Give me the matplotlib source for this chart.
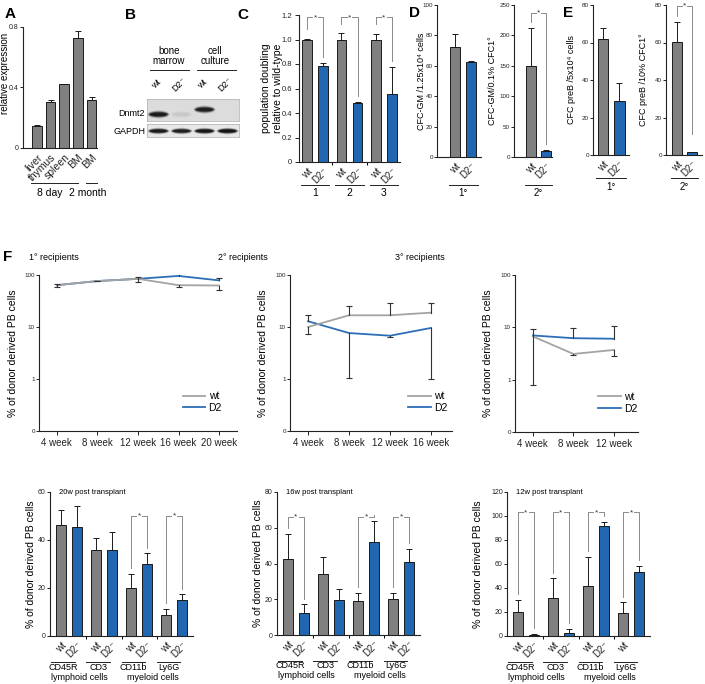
import matplotlib.pyplot as plt
import matplotlib.transforms as mtransforms
from matplotlib.lines import Line2D
from matplotlib.patches import Ellipse
from matplotlib.ticker import NullLocator
import numpy as np

plt.rcParams['font.family'] = ['Liberation Sans', 'DejaVu Sans']

W, H = 705, 684
GREY = '#808080'
BLUE = '#2166b1'
EDGE = '#1a1a1a'
GREY_L = '#a3a3a3'
BLUE_L = '#2c6fb7'
ERR = dict(ecolor=EDGE, elinewidth=0.7, capsize=2.5, capthick=0.7)

# A - Dnmt2 expression
tissues = ['liver', 'thymus', 'spleen', 'BM', 'BM']
rel_expr = [0.145, 0.307, 0.42, 0.728, 0.318]
rel_err = [0.008, 0.01, 0.003, 0.045, 0.018]

# B - western blot
lanes = ['wt', 'D2⁻', 'wt', 'D2⁻']
dnmt2_band = [0.9, 0.05, 0.85, 0.0]
gapdh_band = [0.9, 0.85, 0.95, 1.0]

# C - population doubling
expts = ['1', '2', '3']
pd_wt = [1.0, 1.0, 1.0]
pd_wt_err = [0.005, 0.05, 0.045]
pd_d2 = [0.78, 0.485, 0.555]
pd_d2_err = [0.03, 0.005, 0.22]

# D - CFC-GM
gm_1 = [72.5, 62.5]
gm_1_err = [8.5, 0.5]
gm_2 = [150, 9.5]
gm_2_err = [62, 1.5]

# E - CFC preB
preb_1 = [61.7, 28.6]
preb_1_err = [6, 9.7]
preb_2 = [60.4, 1.5]
preb_2_err = [10.6, 0.3]

# F - donor derived PB cells over time
weeks = ['4 week', '8 week', '12 week', '16 week', '20 week']
r1_wt = [63.7, 76.5, 84.4, 63.7, 62.8]
r1_wt_lo = [3.7, 1.5, 11, 6.1, 10.6]
r1_wt_hi = [3.8, 1.5, 9, 0, 0]
r1_d2 = [63.7, 76.5, 84.4, 96, 78.7]
r1_d2_lo = [0, 0, 0, 0, 0]
r1_d2_hi = [0, 0, 0, 11, 8.3]

r2_wt = [10, 16.8, 16.8, 18.9]
r2_wt_lo = [2.6, 0, 0, 0]
r2_wt_hi = [0, 9.1, 12.2, 9.8]
r2_d2 = [12.9, 7.65, 6.8, 9.6]
r2_d2_lo = [0, 6.6, 0.3, 8.6]
r2_d2_hi = [3.9, 0, 0, 0]

r3_wt = [6.7, 3.1, 3.7]
r3_wt_lo = [5.8, 0.1, 0.9]
r3_wt_hi = [0, 0, 0]
r3_d2 = [7.0, 6.2, 6.05]
r3_d2_lo = [0, 0, 0]
r3_d2_hi = [2.3, 3.4, 4.75]

# F - lineages
cells = ['CD45R', 'CD3', 'CD11b', 'Ly6G']
lineage = ['lymphoid cells', 'myeloid cells']
w20_wt = [46.2, 35.8, 19.8, 8.9]
w20_wt_err = [6.3, 5.2, 6.2, 2.5]
w20_d2 = [45.5, 35.8, 30.2, 15.2]
w20_d2_err = [8.5, 7.7, 4.2, 2.1]
w20_sig = [False, False, True, True]
w16_wt = [42.6, 34, 19, 20]
w16_wt_err = [14, 9.9, 4.4, 3.7]
w16_d2 = [12.1, 19.6, 52.3, 40.7]
w16_d2_err = [5.1, 6.2, 11.7, 7.5]
w16_sig = [True, False, True, True]
w12_wt = [19.9, 31.8, 41.8, 19]
w12_wt_err = [9.9, 16.2, 24.1, 9]
w12_d2 = [1.1, 2.8, 91.5, 53.1]
w12_d2_err = [0.4, 2.9, 3.4, 5.1]
w12_sig = [True, True, True, True]

fig = plt.figure(figsize=(W / 100, H / 100), dpi=100)


def add_ax(x0, y0, x1, y1):
    return fig.add_axes([x0 / W, 1 - y1 / H, (x1 - x0) / W, (y1 - y0) / H])


def ftext(x, y, s, **kw):
    fig.text(x / W, 1 - y / H, s, **kw)


def style(ax, ls=5):
    for s in ['top', 'right']:
        ax.spines[s].set_visible(False)
    for s in ['left', 'bottom']:
        ax.spines[s].set_linewidth(0.8)
        ax.spines[s].set_color('#222')
    ax.tick_params(length=2, width=0.7, labelsize=ls, pad=1, colors='#222')


def ylab(ax, s, xpx, fs=7.5, yfrac=0.5, **kw):
    # centre of the y label at a given pixel column
    ax.set_ylabel(s, fontsize=fs, va='center', **kw)
    pos = ax.get_position()
    ax.yaxis.set_label_coords((xpx / W - pos.x0) / pos.width, yfrac)


def below(ax, dy):
    base = mtransforms.blended_transform_factory(ax.transData, ax.transAxes)
    return mtransforms.offset_copy(base, fig=fig, x=0, y=-dy, units='dots')


def underline(ax, x0, x1, dy):
    ax.add_line(Line2D([x0, x1], [0, 0], transform=below(ax, dy), color='#222',
                       lw=0.7, clip_on=False))


def under_text(ax, x, dy, s, fs=7):
    ax.text(x, 0, s, transform=below(ax, dy), ha='center', va='center', fontsize=fs)


def sig(ax, xa, xb, top_a, top_b, y, ymax):
    gap = 0.04 * ymax
    xm = (xa + xb) / 2
    kw = dict(color='#8a8a8a', lw=0.7, clip_on=False)
    ax.plot([xa, xa, xm - 0.18], [top_a + gap, y, y], **kw)
    ax.plot([xm + 0.18, xb, xb], [y, y, top_b + gap], **kw)
    ax.text(xm, y, '*', ha='center', va='center', fontsize=6, color='#333')


def paired(ax, wt, wt_err, d2, d2_err, step, width=0.62):
    g = np.arange(len(wt)) * step
    z = np.zeros(len(wt))
    ax.bar(g, wt, width, color=GREY, edgecolor=EDGE, lw=0.7, yerr=[z, wt_err], error_kw=ERR)
    ax.bar(g + 1, d2, width, color=BLUE, edgecolor=EDGE, lw=0.7, yerr=[z, d2_err], error_kw=ERR)
    pos = np.ravel(np.column_stack([g, g + 1]))
    ax.set_xticks(pos)
    ax.set_xticklabels(['wt', 'D2⁻'] * len(wt), rotation=45, ha='right',
                       rotation_mode='anchor', fontsize=7)
    ax.tick_params(axis='x', length=0, pad=3)
    if len(wt) > 1:
        ax.set_xticks(g[:-1] + 1 + (step - 1) / 2, minor=True)
        ax.tick_params(axis='x', which='minor', length=2.5, width=0.7)
    return g


def err_marks(ax, x, y, lo, hi):
    for xi, yi, l, h in zip(x, y, lo, hi):
        for a, b in [(yi - l, l), (yi + h, h)]:
            if b > 0:
                ax.plot([xi, xi], [yi, a], color='#333', lw=0.8, zorder=4)
                ax.plot([xi], [a], marker='_', ms=5, mew=0.8, color='#333', zorder=4)


# ---------------- A ----------------
ax = add_ax(23, 27, 97, 148)
style(ax)
x = np.arange(len(tissues))
ax.bar(x, rel_expr, 0.7, color=GREY, edgecolor=EDGE, lw=0.7,
       yerr=[np.zeros(len(x)), rel_err], error_kw=ERR)
ax.set_xlim(-1.02, 4.4)
ax.set_ylim(0, 0.8)
ax.set_yticks([0, 0.4, 0.8])
ax.set_yticklabels(['0', '0.4', '0.8'])
ax.set_xticks(x)
ax.set_xticklabels(tissues, rotation=45, ha='right', rotation_mode='anchor', fontsize=7.5)
ax.tick_params(axis='x', length=0, pad=3)
ylab(ax, 'relative expression', 5.5, fs=7, yfrac=0.62)
underline(ax, -0.44, 3.0, 35)
underline(ax, 3.6, 4.4, 35)
under_text(ax, 0.95, 45, '8 day', fs=7.5)
under_text(ax, 3.7, 45, '2 month', fs=7.5)

# ---------------- B ----------------
band_y_dnmt2 = [0.3, 0.3, 0.52, 0.52]
for (y0, y1, bands, ys, bg, hs) in [
        (99, 121, dnmt2_band, band_y_dnmt2, '#dcdcdc', (0.36, 0.26, 0.17)),
        (124, 137, gapdh_band, [0.46] * 4, '#e8e8e8', (0.5, 0.36, 0.24))]:
    bx = add_ax(147, y0, 239, y1)
    bx.set_facecolor(bg)
    bx.set_xlim(-0.5, 3.5)
    bx.set_ylim(0, 1)
    bx.set_xticks([])
    bx.set_yticks([])
    for s in bx.spines.values():
        s.set_color('#b8b8b8')
        s.set_linewidth(0.6)
    for i, v in enumerate(bands):
        for w, h, a in zip((0.95, 0.86, 0.76), hs, (0.25, 0.6, 1.0)):
            bx.add_patch(Ellipse((i, ys[i]), w, h, color='#151515', alpha=v * a, lw=0))

ftext(145, 113, 'Dnmt2', ha='right', va='center', fontsize=6.5)
ftext(145, 131, 'GAPDH', ha='right', va='center', fontsize=6.5)
ftext(169, 56, 'bone\nmarrow', ha='center', va='center', fontsize=7, linespacing=1.0)
ftext(215, 56, 'cell\nculture', ha='center', va='center', fontsize=7, linespacing=1.0)
fig.add_artist(Line2D([150 / W, 189 / W], [1 - 70 / H] * 2, color='#222', lw=0.7))
fig.add_artist(Line2D([197 / W, 236 / W], [1 - 70 / H] * 2, color='#222', lw=0.7))
for i, s in enumerate(lanes):
    ftext(156 + i * 23, 84, s, ha='center', va='center', fontsize=6.5, rotation=45)

# ---------------- C ----------------
ax = add_ax(299, 15, 400, 162)
style(ax, ls=5.5)
ax.tick_params(axis='y', length=3, pad=2)
step = 2.15
g = paired(ax, pd_wt, pd_wt_err, pd_d2, pd_d2_err, step, width=0.6)
ax.set_xlim(-0.5, (len(g) - 1) * step + 1.5)
ax.set_ylim(0, 1.2)
ax.set_yticks(np.arange(0, 1.21, 0.2))
ax.set_yticklabels(['0', '0.2', '0.4', '0.6', '0.8', '1.0', '1.2'])
ylab(ax, 'population doubling\nrelative to wild-type', 272, linespacing=1.15)
for i, gi in enumerate(g):
    underline(ax, gi - 0.4, gi + 1.4, 23)
    under_text(ax, gi + 0.5, 31, expts[i], fs=7.5)
    sig(ax, gi, gi + 1, pd_wt[i] + pd_wt_err[i] + 0.03, pd_d2[i] + pd_d2_err[i], 1.18, 1.2)

# ---------------- D ----------------
ax = add_ax(437, 5, 481, 157)
style(ax, ls=4.5)
paired(ax, gm_1[:1], gm_1_err[:1], gm_1[1:], gm_1_err[1:], 1)
ax.set_xlim(-1.15, 1.6)
ax.set_ylim(0, 100)
ax.set_yticks(range(0, 101, 20))
ylab(ax, 'CFC-GM /1.25x10⁴ cells', 421, fs=6.5)
underline(ax, -0.4, 1.4, 28)
under_text(ax, 0.5, 36, '1°')

ax = add_ax(514, 5, 552, 157)
style(ax, ls=4.5)
paired(ax, gm_2[:1], gm_2_err[:1], gm_2[1:], gm_2_err[1:], 1)
ax.set_xlim(-1.13, 1.4)
ax.set_ylim(0, 250)
ax.set_yticks(range(0, 251, 50))
ylab(ax, 'CFC-GM/0.1% CFC1°', 493, fs=6.5)
underline(ax, -0.4, 1.4, 28)
under_text(ax, 0.5, 36, '2°')
sig(ax, 0, 1, gm_2[0] + gm_2_err[0], gm_2[1] + gm_2_err[1], 237, 250)

# ---------------- E ----------------
ax = add_ax(593, 5, 629, 155)
style(ax, ls=4.5)
paired(ax, preb_1[:1], preb_1_err[:1], preb_1[1:], preb_1_err[1:], 1)
ax.set_xlim(-0.6, 1.58)
ax.set_ylim(0, 80)
ax.set_yticks(range(0, 81, 20))
ylab(ax, 'CFC preB /5x10⁴ cells', 572, fs=6.5)
underline(ax, -0.4, 1.4, 23)
under_text(ax, 0.5, 32, '1°')

ax = add_ax(666, 5, 702, 155)
style(ax, ls=4.5)
paired(ax, preb_2[:1], preb_2_err[:1], preb_2[1:], preb_2_err[1:], 1)
ax.set_xlim(-0.73, 1.67)
ax.set_ylim(0, 80)
ax.set_yticks(range(0, 81, 20))
ylab(ax, 'CFC preB /10% CFC1°', 644, fs=6.5)
underline(ax, -0.4, 1.4, 23)
under_text(ax, 0.5, 32, '2°')
sig(ax, 0, 1, preb_2[0] + preb_2_err[0], 8, 79.5, 80)

# ---------------- F: time courses ----------------
line_sets = [
    ((39, 275, 237, 431), 0.44, '1° recipients', 29, 0.945, 13,
     r1_wt, r1_wt_lo, r1_wt_hi, r1_d2, r1_d2_lo, r1_d2_hi),
    ((290, 275, 452, 431), 0.51, '2° recipients', 218, 1.0, 263,
     r2_wt, r2_wt_lo, r2_wt_hi, r2_d2, r2_d2_lo, r2_d2_hi),
    ((515, 275, 638, 432), 0.59, '3° recipients', 395, 1.03, 488,
     r3_wt, r3_wt_lo, r3_wt_hi, r3_d2, r3_d2_lo, r3_d2_hi),
]
for box, rpad, title, tx, lx, yx, wt, wlo, whi, d2, dlo, dhi in line_sets:
    ax = add_ax(*box)
    style(ax, ls=4.5)
    ax.tick_params(axis='x', length=3)
    n = len(wt)
    x = np.arange(n)
    ax.set_yscale('symlog', linthresh=1, linscale=0.9)
    ax.plot(x, d2, color=BLUE_L, lw=1.3, zorder=2)
    ax.plot(x, wt, color=GREY_L, lw=1.3, zorder=3)
    err_marks(ax, x, wt, wlo, whi)
    err_marks(ax, x, d2, dlo, dhi)
    ax.set_ylim(0, 100)
    ax.set_yticks([0, 1, 10, 100])
    ax.set_yticklabels(['0', '1', '10', '100'])
    ax.yaxis.set_minor_locator(NullLocator())
    ax.set_xlim(-0.44, n - 1 + rpad)
    ax.set_xticks(x)
    ax.set_xticklabels(weeks[:n], fontsize=7)
    ax.tick_params(axis='x', pad=2)
    ylab(ax, '% of donor derived PB cells', yx)
    handles = [Line2D([], [], color=GREY_L, lw=1.3), Line2D([], [], color=BLUE_L, lw=1.3)]
    ax.legend(handles, ['wt', 'D2'], loc='lower right', bbox_to_anchor=(lx, 0.09),
              frameon=False, fontsize=7.5, handlelength=2.2, handletextpad=0.3,
              labelspacing=0.15, borderaxespad=0)
    ftext(tx, 257, title, ha='left', va='center', fontsize=6.5)

# ---------------- F: lineages ----------------
bar_sets = [
    ((50, 492, 193, 636), 60, '20w post transplant', 31,
     w20_wt, w20_wt_err, w20_d2, w20_d2_err, w20_sig, 50),
    ((277, 492, 420, 635), 80, '16w post transplant', 258,
     w16_wt, w16_wt_err, w16_d2, w16_d2_err, w16_sig, 66),
    ((507, 492, 650, 636), 120, '12w post transplant', 478,
     w12_wt, w12_wt_err, w12_d2, w12_d2_err, w12_sig, 103),
]
for k, (box, ymax, title, yx, wt, we, d2, de, sg, sy) in enumerate(bar_sets):
    ax = add_ax(*box)
    style(ax)
    step = 2.2
    g = paired(ax, wt, we, d2, de, step, width=0.6)
    if k == 2:
        labs = ['wt', 'D2⁻'] * 3 + ['wt', '']
        ax.set_xticklabels(labs)
    ax.set_xlim(-0.69, (len(g) - 1) * step + 1.69)
    ax.set_ylim(0, ymax)
    ax.set_yticks(range(0, ymax + 1, 20))
    ylab(ax, '% of donor derived PB cells', yx)
    ax.text(0.06, 1.0, title, transform=ax.transAxes, ha='left', va='center', fontsize=5.5)
    for i, gi in enumerate(g):
        underline(ax, gi - 0.6, gi + 0.85, 26)
        under_text(ax, gi + 0.15, 31, cells[i], fs=6.5)
        if sg[i]:
            sig(ax, gi, gi + 1, wt[i] + we[i], d2[i] + de[i], sy, ymax)
    under_text(ax, 1.15, 41, lineage[0], fs=6.5)
    under_text(ax, 5.8, 41, lineage[1], fs=6.5)

# panel letters
for s, (px, py) in zip('ABCDEF', [(10, 14), (130, 15), (243, 15), (415, 13), (568, 13), (8, 257)]):
    ftext(px, py, s, ha='center', va='center', fontsize=11, fontweight='bold')

fig.savefig('out.png', dpi=100)
